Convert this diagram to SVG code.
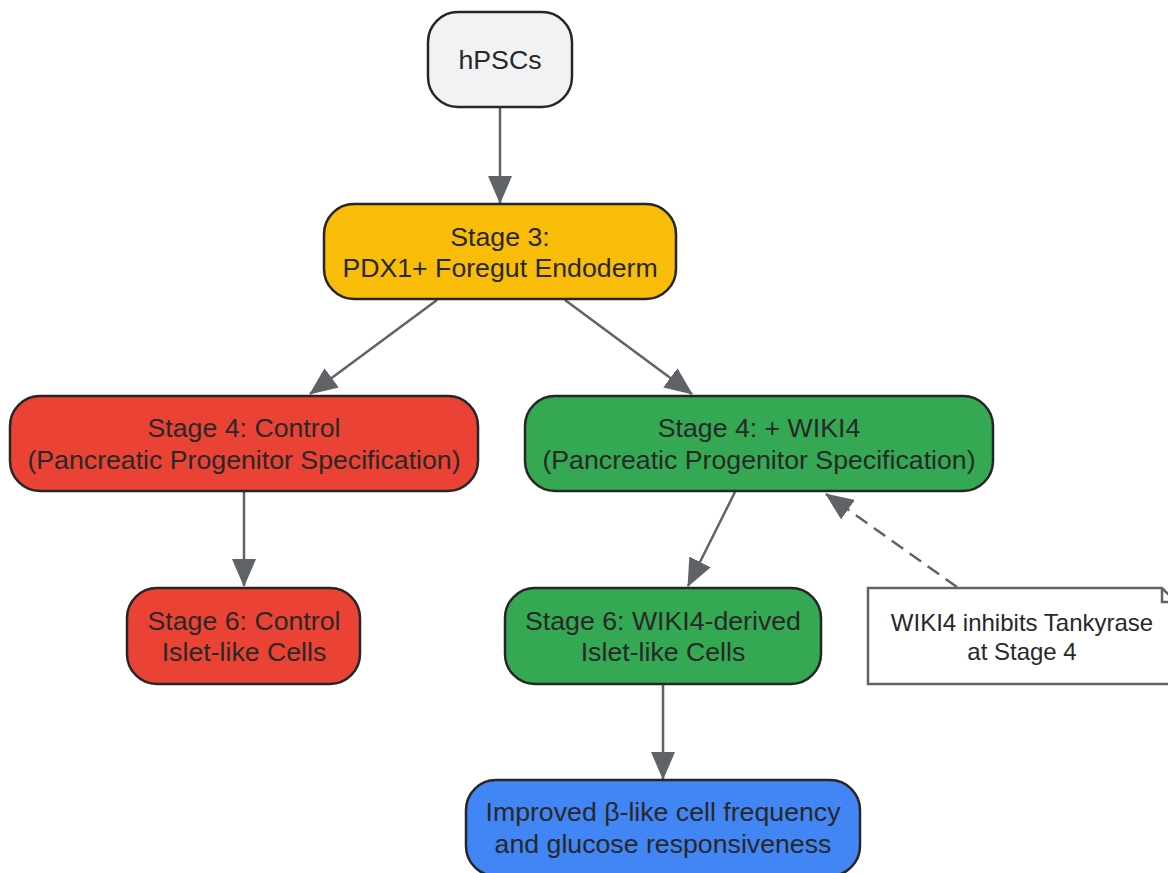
<svg xmlns="http://www.w3.org/2000/svg" width="1168" height="873" viewBox="0 0 1168 873">
<defs>
<marker id="ah" viewBox="0 0 28 24" refX="27" refY="12" markerWidth="28" markerHeight="24" markerUnits="userSpaceOnUse" orient="auto">
<path d="M0,0 L28,12 L0,24 Z" fill="#5f6368"/>
</marker>
<style>
.n{stroke:#262626;stroke-width:2.5}
.t{font-family:"Liberation Sans",Arial,sans-serif;font-size:26.7px;fill:#282828;text-anchor:middle}
.nt{font-family:"Liberation Sans",Arial,sans-serif;font-size:24px;fill:#282828;text-anchor:middle}
.c{stroke:#5f6368;stroke-width:2.5;fill:none;marker-end:url(#ah)}
</style>
</defs>
<rect width="1168" height="873" fill="#ffffff"/>
<g id="connectors">
<line class="c" x1="500" y1="108" x2="500" y2="203"/>
<line class="c" x1="437" y1="300" x2="310" y2="394"/>
<line class="c" x1="565" y1="300" x2="692" y2="394"/>
<line class="c" x1="244" y1="492" x2="244" y2="586"/>
<line class="c" x1="735" y1="492" x2="688" y2="586"/>
<line class="c" x1="663" y1="685" x2="663" y2="779"/>
<line class="c" x1="957" y1="587" x2="826" y2="494" stroke-dasharray="14,8"/>
</g>
<g id="hpscs">
<rect class="n" x="428" y="12" width="144" height="95" rx="30" fill="#f1f2f4"/>
<text class="t" x="500" y="69">hPSCs</text>
</g>
<g id="stage3">
<rect class="n" x="324" y="204" width="352" height="95" rx="30" fill="#f9bc08"/>
<text class="t" x="500" y="246">Stage 3:</text>
<text class="t" x="500" y="277">PDX1+ Foregut Endoderm</text>
</g>
<g id="stage4-control">
<rect class="n" x="10" y="396" width="468" height="95" rx="30" fill="#ea4335"/>
<text class="t" x="244" y="437">Stage 4: Control</text>
<text class="t" x="244" y="469">(Pancreatic Progenitor Specification)</text>
</g>
<g id="stage4-wiki4">
<rect class="n" x="525" y="396" width="468" height="95" rx="30" fill="#34a853"/>
<text class="t" x="759" y="437">Stage 4: + WIKI4</text>
<text class="t" x="759" y="469">(Pancreatic Progenitor Specification)</text>
</g>
<g id="stage6-control">
<rect class="n" x="127" y="588" width="233" height="96" rx="30" fill="#ea4335"/>
<text class="t" x="244" y="630">Stage 6: Control</text>
<text class="t" x="244" y="661">Islet-like Cells</text>
</g>
<g id="stage6-wiki4">
<rect class="n" x="505" y="588" width="316" height="96" rx="30" fill="#34a853"/>
<text class="t" x="663" y="630">Stage 6: WIKI4-derived</text>
<text class="t" x="663" y="661">Islet-like Cells</text>
</g>
<g id="improved">
<rect class="n" x="466" y="780" width="394" height="96" rx="30" fill="#4285f4"/>
<text class="t" x="663" y="821">Improved β-like cell frequency</text>
<text class="t" x="663" y="853">and glucose responsiveness</text>
</g>
<g id="note">
<path d="M868,588 H1162 L1176,602 V684 H868 Z" fill="#ffffff" stroke="#5f6368" stroke-width="2.5"/>
<path d="M1162,588 V602 H1176" fill="none" stroke="#5f6368" stroke-width="2.5"/>
<text class="nt" x="1022" y="631">WIKI4 inhibits Tankyrase</text>
<text class="nt" x="1022" y="660">at Stage 4</text>
</g>
</svg>
